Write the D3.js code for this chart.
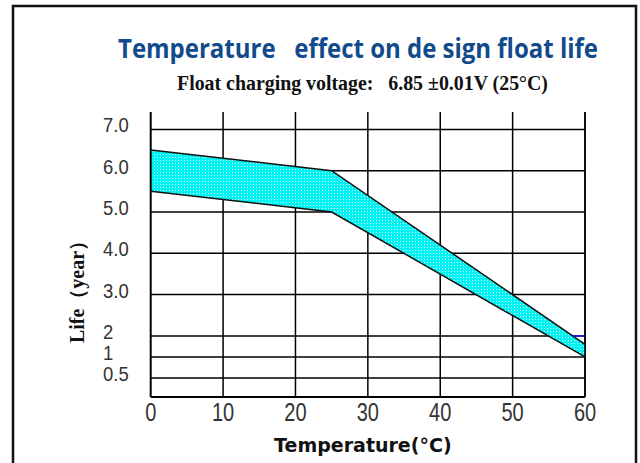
<!DOCTYPE html>
<html>
<head>
<meta charset="utf-8">
<script src="https://cdn.jsdelivr.net/npm/d3@7/dist/d3.min.js"></script>
<style>
body { margin: 0; background: #fff; }
text { white-space: pre; }
</style>
</head>
<body>
<script>
// temperature ticks (°C)
var xTicks = [0, 10, 20, 30, 40, 50, 60];
// life ticks (year) - the axis is not linear, the low end is stretched
var yTicks = [7.0, 6.0, 5.0, 4.0, 3.0, 2, 1, 0.5];
var yTickLabels = ['7.0', '6.0', '5.0', '4.0', '3.0', '2', '1', '0.5'];
var yDomain = [0, 0.5, 1, 2, 3, 4, 5, 6, 7, 7.4];
var yUnits = [0, 0.46, 0.97, 1.48, 2.48, 3.48, 4.48, 5.48, 6.48, 6.9];

// band of design life
var bandTemp = [0, 25, 60];
var bandUpper = [6.5, 6.0, 1.6];
var bandLower = [5.5, 5.0, 1.0];

var width = 640,
    height = 463;

var svg = d3.select('body').append('svg')
    .attr('width', width)
    .attr('height', height);

// dotted cyan fill
var pat = svg.append('defs').append('pattern')
    .attr('id', 'dots')
    .attr('patternUnits', 'userSpaceOnUse')
    .attr('width', 3)
    .attr('height', 3);
pat.append('rect').attr('width', 3).attr('height', 3).attr('fill', '#00f2f2');
pat.append('rect').attr('x', 1).attr('y', 1).attr('width', 1).attr('height', 1).attr('fill', '#dcffff');

// frame
svg.append('rect')
    .attr('x', 13).attr('y', 6)
    .attr('width', 623).attr('height', 480)
    .attr('fill', 'none')
    .attr('stroke', '#111')
    .attr('stroke-width', 2.5);

var left = 150.7, right = 585, bottom = 397, unit = 41.3;

var x = d3.scaleLinear().domain([0, 60]).range([left, right]);
var y = d3.scaleLinear().domain(yDomain).range(yUnits.map(function (u) { return bottom - u * unit; }));
var yTop = y(yDomain[yDomain.length - 1]);

// titles
svg.append('text')
    .attr('x', 118).attr('y', 58)
    .attr('textLength', 480)
    .attr('lengthAdjust', 'spacingAndGlyphs')
    .style('font-family', '"Open Sans", sans-serif')
    .style('font-weight', 'bold')
    .style('font-size', '26px')
    .style('fill', '#114b8c')
    .text('Temperature   effect on de sign float life');

svg.append('text')
    .attr('x', 177).attr('y', 90)
    .attr('textLength', 371)
    .attr('lengthAdjust', 'spacingAndGlyphs')
    .style('font-family', '"Liberation Serif", serif')
    .style('font-weight', 'bold')
    .style('font-size', '20px')
    .style('fill', '#111')
    .text('Float charging voltage:   6.85 ±0.01V (25°C)');

// band
var band = d3.area()
    .x(function (d) { return x(d.t); })
    .y0(function (d) { return y(d.lo); })
    .y1(function (d) { return y(d.hi); });
var bandData = bandTemp.map(function (t, i) { return {t: t, hi: bandUpper[i], lo: bandLower[i]}; });

// grid
var g = svg.append('g');
g.selectAll('.vl').data(xTicks.slice(1)).enter().append('line')
    .attr('x1', x).attr('x2', x)
    .attr('y1', yTop).attr('y2', bottom)
    .attr('stroke', '#000').attr('stroke-width', 1.5);
g.selectAll('.hl').data(yTicks).enter().append('line')
    .attr('x1', left).attr('x2', right)
    .attr('y1', y).attr('y2', y)
    .attr('stroke', '#000').attr('stroke-width', 1.5);

svg.append('path')
    .datum(bandData)
    .attr('d', band)
    .attr('fill', 'url(#dots)');

var edge = d3.line().x(function (d) { return x(d.t); });
svg.append('path').datum(bandData)
    .attr('d', edge.y(function (d) { return y(d.hi); }))
    .attr('fill', 'none').attr('stroke', '#111').attr('stroke-width', 1.5);
svg.append('path').datum(bandData)
    .attr('d', edge.y(function (d) { return y(d.lo); }))
    .attr('fill', 'none').attr('stroke', '#111').attr('stroke-width', 1.5);

// the "2" grid line shows blue right of the band
var p1 = [x(bandTemp[1]), y(bandUpper[1])], p2 = [x(bandTemp[2]), y(bandUpper[2])];
var cross = p1[0] + (y(2) - p1[1]) / (p2[1] - p1[1]) * (p2[0] - p1[0]);
svg.append('line')
    .attr('x1', cross).attr('x2', right)
    .attr('y1', y(2)).attr('y2', y(2))
    .attr('stroke', '#1a1aff').attr('stroke-width', 1.5);

// axes
svg.append('line')
    .attr('x1', left).attr('x2', left).attr('y1', yTop).attr('y2', bottom)
    .attr('stroke', '#000').attr('stroke-width', 2);
svg.append('line')
    .attr('x1', left).attr('x2', right).attr('y1', bottom).attr('y2', bottom)
    .attr('stroke', '#000').attr('stroke-width', 2);
svg.append('line')
    .attr('x1', right).attr('x2', right).attr('y1', yTop).attr('y2', bottom)
    .attr('stroke', '#000').attr('stroke-width', 1.5);

var tickFont = '"Liberation Sans", sans-serif';
svg.selectAll('.xt').data(xTicks).enter().append('text')
    .attr('transform', function (d) { return 'translate(' + x(d) + ',421) scale(0.8,1)'; })
    .attr('text-anchor', 'middle')
    .style('font-family', tickFont)
    .style('font-size', '25px')
    .style('fill', '#333')
    .text(function (d) { return d; });

svg.selectAll('.yt').data(yTicks).enter().append('text')
    .attr('transform', function (d) { return 'translate(103,' + (y(d) + 3) + ') scale(0.88,1)'; })
    .style('font-family', tickFont)
    .style('font-size', '21px')
    .style('fill', '#333')
    .text(function (d, i) { return yTickLabels[i]; });

svg.append('text')
    .attr('x', (left + right) / 2 - 5).attr('y', 452)
    .attr('text-anchor', 'middle')
    .style('font-family', '"DejaVu Sans", sans-serif')
    .style('font-weight', 'bold')
    .style('font-size', '19px')
    .style('fill', '#111')
    .text('Temperature(°C)');

svg.append('text')
    .attr('transform', 'translate(84,287) rotate(-90)')
    .attr('text-anchor', 'middle')
    .style('font-family', '"Liberation Serif", serif')
    .style('font-weight', 'bold')
    .style('font-size', '20px')
    .style('fill', '#111')
    .text('Life（year）');
</script>
</body>
</html>
